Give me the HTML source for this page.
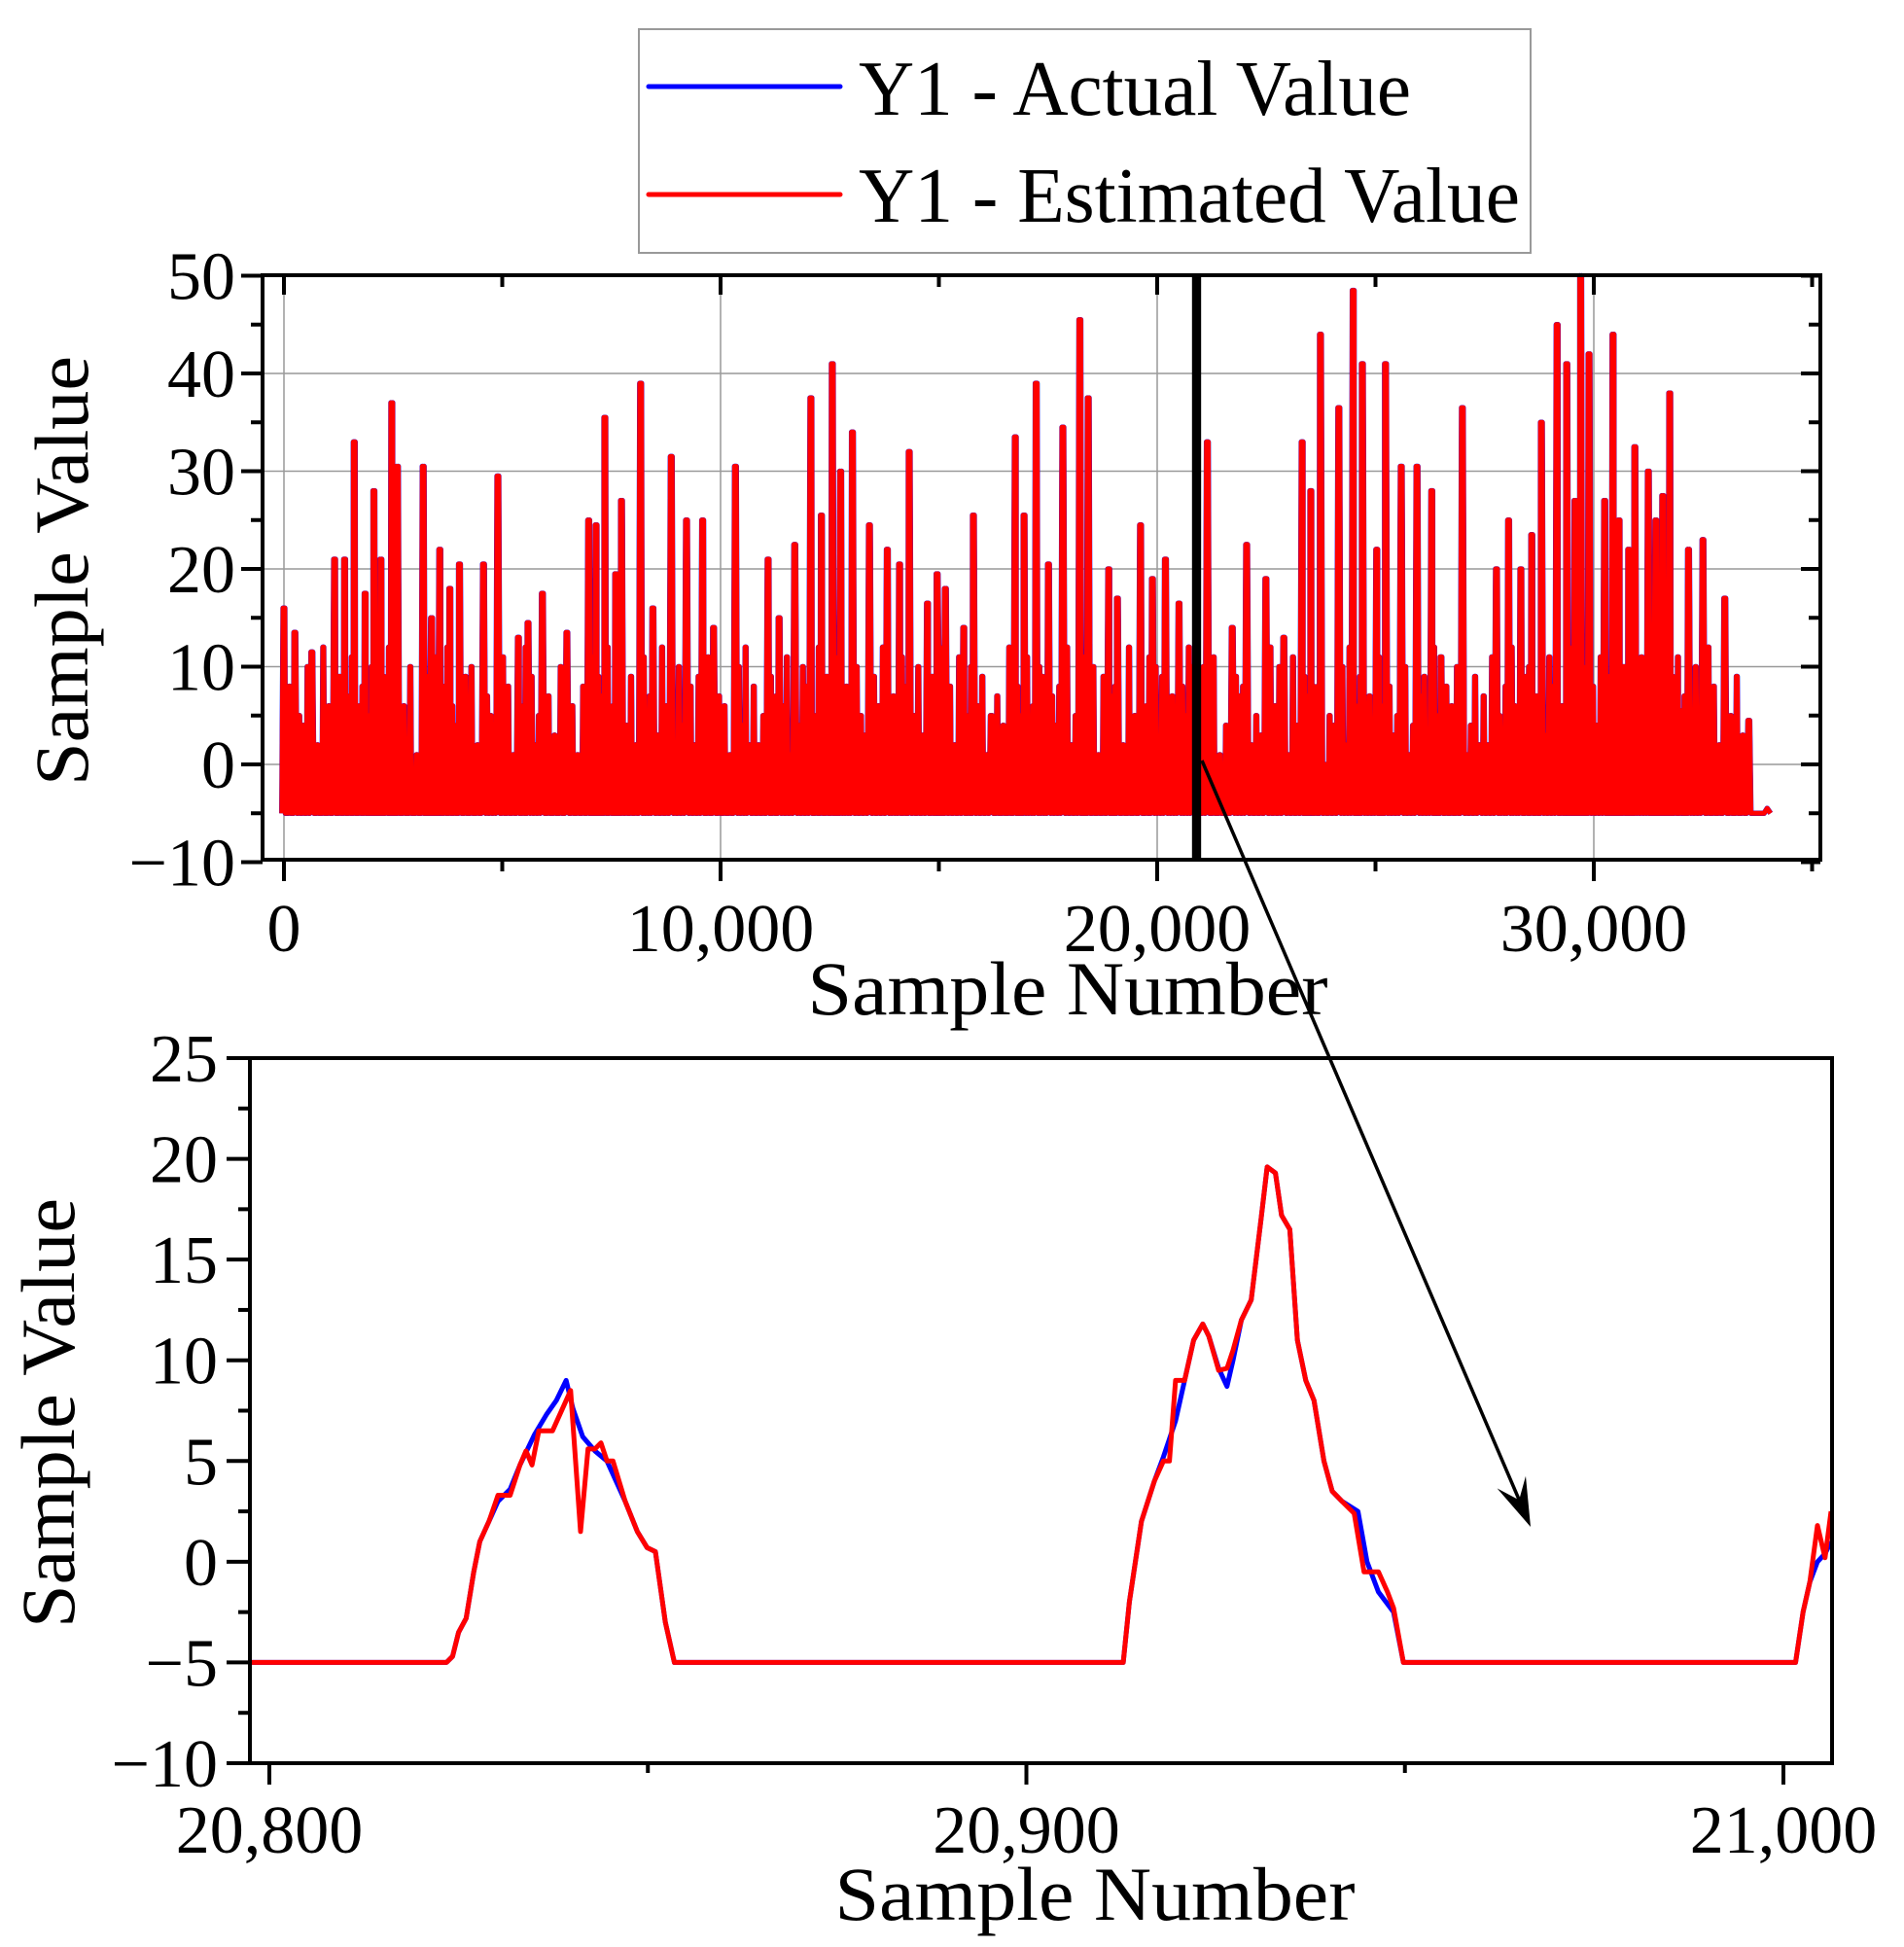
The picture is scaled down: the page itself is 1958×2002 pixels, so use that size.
<!DOCTYPE html>
<html><head><meta charset="utf-8"><style>
html,body{margin:0;padding:0;background:#fff;}
svg{display:block;font-family:"Liberation Serif",serif;}
</style></head><body>
<svg id="chart" width="1958" height="2002" viewBox="0 0 1958 2002" xmlns="http://www.w3.org/2000/svg">
<rect width="1958" height="2002" fill="#fff"/>
<g id="topchart"></g>
<g id="botchart"></g>
<g id="legend">
  <rect x="657" y="30" width="917" height="230" fill="#fff" stroke="#999" stroke-width="2"/>
  <line x1="667" y1="89" x2="864" y2="89" stroke="#0000ff" stroke-width="5" stroke-linecap="round"/>
  <text x="883" y="118" font-size="80" textLength="568" lengthAdjust="spacingAndGlyphs">Y1 - Actual Value</text>
  <line x1="667" y1="200" x2="864" y2="200" stroke="#ff0000" stroke-width="5" stroke-linecap="round"/>
  <text x="883" y="228" font-size="80" textLength="680" lengthAdjust="spacingAndGlyphs">Y1 - Estimated Value</text>
</g>
</svg>
<script>
// ---- Overview data (sample number, value) ----
const peakSamples = [0,250,640,1160,1390,1610,1860,2060,2220,2470,2600,3190,3380,3570,3800,4020,4570,4900,5370,5590,5920,6480,6980,7150,7350,7600,7730,8170,8450,8870,9220,9590,9840,10340,10650,11090,11340,11700,12070,12310,12560,12750,13020,13410,13820,14100,14320,14740,14960,15150,15570,15790,16200,16750,16950,17230,17510,17840,18230,18420,18890,19090,19620,19890,20190,20500,20800,21150,21720,22050,22490,22900,23320,23520,23740,24160,24490,24700,25030,25230,25590,25950,26290,26500,26990,27380,27770,28050,28330,28580,28800,29160,29380,29570,29700,29890,30250,30440,30580,30800,30940,31250,31420,31580,31740,31990,32170,32500,33000,33550];
const peakValues = [16,13.5,11.5,21,21,33,17.5,28,21,37,30.5,30.5,15,22,18,20.5,20.5,29.5,13,14.5,17.5,13.5,25,24.5,35.5,19.5,27,39,16,31.5,25,25,14,30.5,2,21,15,22.5,37.5,25.5,41,30,34,24.5,22,20.5,32,16.5,19.5,18,14,25.5,5,33.5,25.5,39,20.5,34.5,45.5,37.5,20,17,24.5,19,21,16.5,10,33,14,22.5,19,13,33,28,44,36.5,48.5,41,22,41,30.5,30.5,28,11,36.5,2,20,25,20,23.5,35,45,41,27,50,42,27,44,25,22,32.5,30,25,27.5,38,5.5,22,23,17,4.5];
const minorValues = [3,8,0,5,4,10,2,12,6,3,9,1,7,4,11,2,6,8,3,5,10,1,4,7,9,2,12,5,3,8,6,10,1,4,9,7,2,11,5,3,8,12,6,1,4,9,10,2,7,5,3,11,8,1,6,4,12,9,2,5,7,3,10,6,1,8,4,11,2,9,5,7,12,3,6,10,1,8,4,9,2,11,5,7,3,12,6,1,10,4,8,2,9,5,11,3,7,6,1,10,4,12,8,2,5,9,3,7,6,11,1,4,10,8,2,5,12,3,9,6,7,1,11,4,8,2,10,5,3,9,6,12,1,7,4,11,8,2,5,10,3,6,9,1,12,7,4,8,2,11,5,3,10,6,9,1,7,4,12,8,2,5,11,3,6,10,9,1,7,4,8,12,2,5,3,11,6,10,1,9,4,7,8,2,12,5,3,6,11,10,1,9,4,7,2,8,5,12,3,6,10,11,1,4,9,7,8,2,5,3,12,6,10,1,11,4,9,7,2,8];
const topXTicks = [0,10000,20000,30000];
const topXTickLabels = ["0","10,000","20,000","30,000"];
const topYTicks = [-10,0,10,20,30,40,50];
const topYTickLabels = ["\u221210","0","10","20","30","40","50"];
const endSample = 34050, endValue = -4.5, baseValue = -5;

// ---- Zoomed data ----
const estSamples = [20797.3,20823.4,20824.2,20825,20826,20827,20827.8,20829,20830.2,20831.8,20833.1,20833.9,20834.7,20835.6,20837.4,20839.8,20841.1,20842.1,20843,20843.8,20844.6,20845.4,20847,20848.6,20849.9,20851,20852.3,20853.5,20912.8,20913.6,20915.2,20916.9,20918.1,20918.9,20919.7,20920.9,20922.1,20923.3,20924.1,20925.4,20926.5,20927.3,20928.4,20929.7,20931,20931.8,20932.9,20933.7,20934.8,20935.8,20936.9,20938,20939.3,20940.4,20941.7,20943.3,20944.6,20946.5,20947.7,20948.5,20949.8,21001.6,21002.6,21003.5,21004.5,21005.5,21006.3];
const estValues = [-5,-5,-4.7,-3.5,-2.8,-0.5,1,2,3.3,3.3,4.8,5.5,4.8,6.5,6.5,8.5,1.5,5.6,5.6,5.9,5,5,3,1.5,0.7,0.5,-3,-5,-5,-2,2,4,5,5,9,9,11,11.8,11.2,9.5,9.6,10.5,12,13,17,19.6,19.3,17.2,16.5,11,9,8,5,3.5,3,2.4,-0.5,-0.5,-1.5,-2.3,-5,-5,-2.5,-1,1.8,0.2,2.5];
const actSamples = [20797.3,20823.4,20824.2,20825,20826,20827,20827.8,20829,20830.2,20831.8,20833.1,20835,20836.6,20837.9,20839.2,20840.1,20841.4,20843,20844.6,20847,20848.6,20849.9,20851,20852.3,20853.5,20912.8,20913.6,20915.2,20916.9,20918.1,20919.7,20920.9,20922.1,20923.3,20924.1,20925.4,20926.5,20927.3,20928.4,20929.7,20931,20931.8,20932.9,20933.7,20934.8,20935.8,20936.9,20938,20939.3,20940.4,20941.7,20943.8,20945,20946.5,20948.5,20949.8,21001.6,21002.6,21003.5,21004.5,21005.5,21006.3];
const actValues = [-5,-5,-4.7,-3.5,-2.8,-0.5,1,2,3,3.6,4.8,6.3,7.3,8,9,7.6,6.2,5.5,5,3,1.5,0.7,0.5,-3,-5,-5,-2,2,4,5.2,7,9,11,11.8,11.2,9.6,8.7,10,12,13,17,19.6,19.3,17.2,16.5,11,9,8,5,3.5,3,2.5,0,-1.5,-2.5,-5,-5,-2.5,-1,0,0.4,1];
const botXTicks = [20800,20900,21000];
const botXTickLabels = ["20,800","20,900","21,000"];
const botYTicks = [-10,-5,0,5,10,15,20,25];
const botYTickLabels = ["\u221210","\u22125","0","5","10","15","20","25"];

const NS="http://www.w3.org/2000/svg";
function mk(parent,tag,attrs){const e=document.createElementNS(NS,tag);for(const k in attrs)e.setAttribute(k,attrs[k]);parent.appendChild(e);return e;}

// ---- Overview axes ----
const T={l:270,r:1872,t:283,b:884};
const tx=v=>292+(v/1000)*44.9;
const ty=v=>786-(v/10)*100.5;
const topG=document.getElementById('topchart');
topYTicks.forEach(v=>{if(v>-10&&v<50){const g=mk(topG,'line',{x1:T.l,x2:T.r,y1:ty(v),y2:ty(v),stroke:'#999','stroke-width':1.5});

}});
topXTicks.forEach(v=>{const g=mk(topG,'line',{x1:tx(v),x2:tx(v),y1:T.t,y2:T.b,stroke:'#999','stroke-width':1.5});

});
function buildTop(){const pts=[];let mi=0;
 for(let i=0;i<peakSamples.length;i++){const s=peakSamples[i],v=peakValues[i];
  pts.push([s-50,baseValue],[s-20,v],[s+20,v],[s+50,baseValue]);
  if(i<peakSamples.length-1){const n=peakSamples[i+1];
   for(let j=1;j<=3;j++){const m=s+(n-s)*j/4;const mv=minorValues[(mi++)%minorValues.length];
    pts.push([m-30,baseValue],[m-10,mv],[m+10,mv],[m+30,baseValue]);}}}
 pts.push([endSample-150,baseValue],[endSample-80,endValue],[endSample,baseValue]);
 return pts.sort((a,b)=>a[0]-b[0]).map(p=>tx(p[0]).toFixed(1)+','+ty(p[1]).toFixed(1)).join(' ');}
const tp=buildTop();
const tb=mk(topG,'polyline',{points:tp,fill:'none',stroke:'#0000ff','stroke-width':5.5,'stroke-linejoin':'round'});


const tr=mk(topG,'polyline',{points:tp,fill:'none',stroke:'#ff0000','stroke-width':5,'stroke-linejoin':'round'});


const zb=mk(topG,'rect',{x:tx(estSamples[0]),y:T.t,width:tx(estSamples[estSamples.length-1])-tx(estSamples[0]),height:T.b-T.t,fill:'#000'});


const tf=mk(topG,'rect',{x:T.l,y:T.t,width:T.r-T.l,height:T.b-T.t,fill:'none',stroke:'#000','stroke-width':4});


for(let v=-10;v<=50;v+=5){const major=v%10===0;
 mk(topG,'line',{x1:T.l-(major?22:12),x2:T.l,y1:ty(v),y2:ty(v),stroke:'#000','stroke-width':4});
 mk(topG,'line',{x1:T.r-(major?20:12),x2:T.r,y1:ty(v),y2:ty(v),stroke:'#000','stroke-width':4});}
topYTicks.forEach((v,i)=>{const t=mk(topG,'text',{x:T.l-28,y:ty(v)+24,'font-size':70,'text-anchor':'end'});t.textContent=topYTickLabels[i];

});
for(let v=0;v<=35000;v+=5000){const major=v%10000===0;
 mk(topG,'line',{x1:tx(v),x2:tx(v),y1:T.b,y2:T.b+(major?22:12),stroke:'#000','stroke-width':4});
 mk(topG,'line',{x1:tx(v),x2:tx(v),y1:T.t,y2:T.t+(major?20:12),stroke:'#000','stroke-width':4});}
topXTicks.forEach((v,i)=>{const t=mk(topG,'text',{x:tx(v),y:978,'font-size':70,'text-anchor':'middle'});t.textContent=topXTickLabels[i];

});
const t1=mk(topG,'text',{x:1098,y:1043,'font-size':78,'text-anchor':'middle',textLength:535,lengthAdjust:'spacingAndGlyphs'});t1.textContent='Sample Number';


const t2=mk(topG,'text',{x:0,y:0,'font-size':78,'text-anchor':'middle',textLength:442,lengthAdjust:'spacingAndGlyphs',transform:'translate(90,587) rotate(-90)'});t2.textContent='Sample Value';



// ---- Zoomed axes ----
const B={l:257,r:1884,t:1088,b:1813};
const bx=v=>277+(v-20800)*7.785;
const by=v=>1813-(v+10)*20.714;
const botG=document.getElementById('botchart');
const toPts=(xs,ys)=>xs.map((s,i)=>bx(s).toFixed(1)+','+by(ys[i]).toFixed(1)).join(' ');
const bb=mk(botG,'polyline',{points:toPts(actSamples,actValues),fill:'none',stroke:'#0000ff','stroke-width':5,'stroke-linejoin':'round'});


const br=mk(botG,'polyline',{points:toPts(estSamples,estValues),fill:'none',stroke:'#ff0000','stroke-width':5,'stroke-linejoin':'round'});


const bf=mk(botG,'rect',{x:B.l,y:B.t,width:B.r-B.l,height:B.b-B.t,fill:'none',stroke:'#000','stroke-width':4});


for(let v=-10;v<=25;v+=2.5){const major=v%5===0;
 mk(botG,'line',{x1:B.l-(major?24:12),x2:B.l,y1:by(v),y2:by(v),stroke:'#000','stroke-width':4});}
botYTicks.forEach((v,i)=>{const t=mk(botG,'text',{x:B.l-33,y:by(v)+24,'font-size':70,'text-anchor':'end'});t.textContent=botYTickLabels[i];

});
for(let v=20800;v<=21000;v+=50){const major=v%100===0;
 mk(botG,'line',{x1:bx(v),x2:bx(v),y1:B.b,y2:B.b+(major?22:10),stroke:'#000','stroke-width':4});}
botXTicks.forEach((v,i)=>{const t=mk(botG,'text',{x:bx(v),y:1905,'font-size':70,'text-anchor':'middle'});t.textContent=botXTickLabels[i];

});
const t3=mk(botG,'text',{x:1126,y:1974,'font-size':78,'text-anchor':'middle',textLength:535,lengthAdjust:'spacingAndGlyphs'});t3.textContent='Sample Number';


const t4=mk(botG,'text',{x:0,y:0,'font-size':78,'text-anchor':'middle',textLength:442,lengthAdjust:'spacingAndGlyphs',transform:'translate(76,1453) rotate(-90)'});t4.textContent='Sample Value';



// ---- Arrow ----
const svgEl=document.getElementById('chart');
const ax1=1236,ay1=782,ax2=1574,ay2=1570;
const al=mk(svgEl,'line',{x1:ax1,y1:ay1,x2:ax2-5,y2:ay2-12,stroke:'#000','stroke-width':3.5});


const ang=Math.atan2(ay2-ay1,ax2-ax1);
const AL=50,AW=16;
const bxp=ax2-AL*Math.cos(ang),byp=ay2-AL*Math.sin(ang);
const ah=mk(svgEl,'polygon',{points:`${ax2},${ay2} ${bxp+AW*Math.sin(ang)},${byp-AW*Math.cos(ang)} ${ax2-0.6*AL*Math.cos(ang)},${ay2-0.6*AL*Math.sin(ang)} ${bxp-AW*Math.sin(ang)},${byp+AW*Math.cos(ang)}`,fill:'#000'});


</script>
</body></html>
